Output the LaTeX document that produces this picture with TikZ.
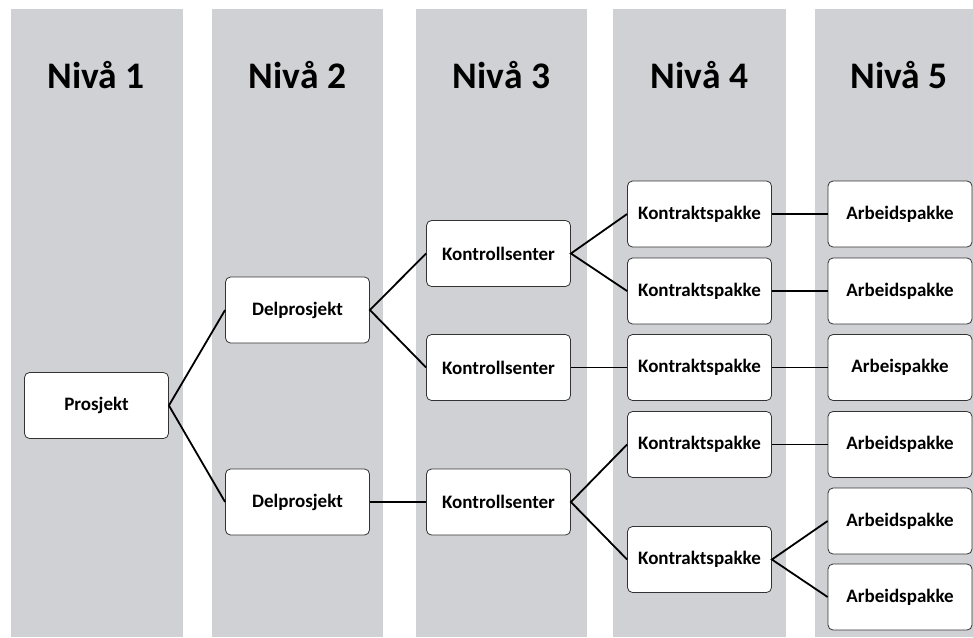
\documentclass[tikz,border=0pt]{standalone}
\usepackage{fontspec}
\setmainfont{Carlito}
\begin{document}
\begin{tikzpicture}[x=1pt,y=-1pt,
  lane/.style={fill=lanegray, draw=none},
  head/.style={anchor=base, font=\fontsize{37.5}{42}\selectfont\bfseries, inner sep=0},
  box/.style={draw=black!80, line width=0.8pt, rounded corners=5pt, fill=white,
    minimum width=144pt, minimum height=66pt, inner sep=0,
    font=\fontsize{19}{22}\selectfont\bfseries},
  link/.style={line width=1.8pt, black}]
\definecolor{lanegray}{RGB}{208,209,213}
\useasboundingbox (0,0) rectangle (973,637);

% level lanes
\fill[lane] (11,9) rectangle (183,637);
\fill[lane] (212,9) rectangle (383,637);
\fill[lane] (416,9) rectangle (587,637);
\fill[lane] (613,9) rectangle (786,637);
\fill[lane] (815,9) rectangle (973,637);

% lane headings
\node[head] (h1) at (96,88) {Nivå 1};
\node[head] (h2) at (297.5,88) {Nivå 2};
\node[head] (h3) at (501.5,88) {Nivå 3};
\node[head] (h4) at (699.5,88) {Nivå 4};
\node[head] (h5) at (899,88) {Nivå 5};

% level 1
\node[box] (p) at (96.5,405.5) {Prosjekt};
% level 2
\node[box] (d1) at (297.5,310) {Delprosjekt};
\node[box] (d2) at (297.5,502) {Delprosjekt};
% level 3
\node[box] (c1) at (498.5,253.5) {Kontrollsenter};
\node[box] (c2) at (498.5,367.5) {Kontrollsenter};
\node[box] (c3) at (498.5,502) {Kontrollsenter};
% level 4
\node[box] (k1) at (699.5,214) {Kontraktspakke};
\node[box] (k2) at (699.5,291) {Kontraktspakke};
\node[box] (k3) at (699.5,367.5) {Kontraktspakke};
\node[box] (k4) at (699.5,444.5) {Kontraktspakke};
\node[box] (k5) at (699.5,559.5) {Kontraktspakke};
% level 5
\node[box] (a1) at (900,214) {Arbeidspakke};
\node[box] (a2) at (900,291) {Arbeidspakke};
\node[box] (a3) at (900,367.5) {Arbeispakke};
\node[box] (a4) at (900,444.5) {Arbeidspakke};
\node[box] (a5) at (900,521) {Arbeidspakke};
\node[box] (a6) at (900,597) {Arbeidspakke};

% connectors
\draw[link] (d1.west) -- (p.east) -- (d2.west);
\draw[link] (c1.west) -- (d1.east) -- (c2.west);
\draw[link] (d2.east) -- (c3.west);
\draw[link] (k1.west) -- (c1.east) -- (k2.west);
\draw[link] (c2.east) -- (k3.west);
\draw[link] (k4.west) -- (c3.east) -- (k5.west);
\draw[link] (k1.east) -- (a1.west);
\draw[link] (k2.east) -- (a2.west);
\draw[link] (k3.east) -- (a3.west);
\draw[link] (k4.east) -- (a4.west);
\draw[link] (a5.west) -- (k5.east) -- (a6.west);
\end{tikzpicture}
\end{document}
